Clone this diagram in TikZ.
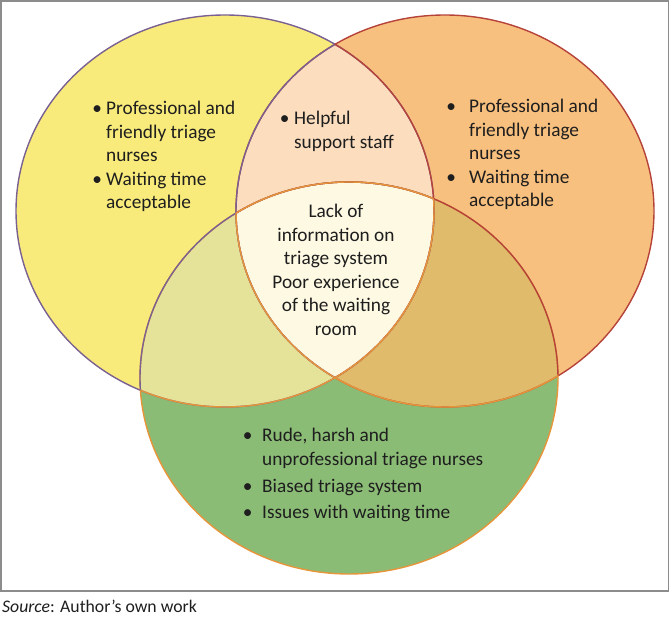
\documentclass[tikz,border=0pt]{standalone}
\usepackage{fontspec}
\setmainfont{Carlito}
\usepackage{tikz}

\definecolor{vyellow}{HTML}{F8EB7B}
\definecolor{vorange}{HTML}{F8C07E}
\definecolor{vpeach}{HTML}{FCDDBE}
\definecolor{vcream}{HTML}{FEF9E3}
\definecolor{volive}{HTML}{E5E39A}
\definecolor{vtan}{HTML}{DFBB6B}
\definecolor{vgreen}{HTML}{8BBC76}
\definecolor{lpurple}{HTML}{7A6191}
\definecolor{rred}{HTML}{B5433A}
\definecolor{borange}{HTML}{E7953A}
\definecolor{framegrey}{HTML}{8C8C8C}
\definecolor{ink}{HTML}{1E1E1E}

\newcommand\vennfont{\fontsize{19.3}{23.5}\selectfont}
\newcommand\bul[1]{\llap{\makebox[0pt]{\textbullet}\hspace{#1pt}}}
% the three sets
\newcommand\setL{(L) ellipse [x radius=209pt, y radius=196pt]}
\newcommand\setR{(R) ellipse [x radius=209pt, y radius=196pt]}
\newcommand\setB{(B) ellipse [x radius=209pt, y radius=196pt]}

\begin{document}
\begin{tikzpicture}[
  x=1pt,y=-1pt,
  edge/.style={draw=#1,line width=1.4pt},
  lbl/.style={anchor=base west,inner sep=0pt,font=\vennfont,text=ink},
  mid/.style={anchor=base,inner sep=0pt,font=\vennfont,text=ink},
  frame/.style={draw=framegrey,line width=1.5pt}
]
  \useasboundingbox (0,0) rectangle (670,617);
  \coordinate (L) at (225,211);
  \coordinate (R) at (445,211);
  \coordinate (B) at (349,378);

  % region fills
  \fill[vyellow] \setL;
  \fill[vorange] \setR;
  \begin{scope}
    \clip \setL;
    \fill[vpeach] \setR;
  \end{scope}
  \fill[vgreen] \setB;
  \begin{scope}
    \clip \setB;
    \fill[volive] \setL;
    \fill[vtan] \setR;
    \clip \setL;
    \fill[vcream] \setR;
  \end{scope}

  % outlines
  \draw[edge=lpurple] \setL;
  \draw[edge=rred] \setR;
  \draw[edge=borange] \setB;
  \begin{scope}
    \clip \setL;
    \draw[edge=lpurple] \setR;
    \draw[edge=lpurple] \setB;
  \end{scope}
  \begin{scope}
    \clip \setR;
    \draw[edge=rred] \setL;
    \draw[edge=rred] \setB;
  \end{scope}
  \begin{scope}
    \clip \setB;
    \draw[edge=borange] \setL;
    \draw[edge=borange] \setR;
  \end{scope}
  \begin{scope}
    \clip \setL;
    \clip \setR;
    \draw[edge=borange] \setB;
  \end{scope}

  \node[lbl] (left) at (106,115) {\begin{tabular}[t]{@{}l@{}}
    \bul{9}Professional and\\ friendly triage\\ nurses\\
    \bul{9}Waiting time\\ acceptable\end{tabular}};
  \node[lbl] (right) at (469,113) {\begin{tabular}[t]{@{}l@{}}
    \bul{18}Professional and\\ friendly triage\\ nurses\\
    \bul{18}Waiting time\\ acceptable\end{tabular}};
  \node[lbl] (top) at (294,125) {\begin{tabular}[t]{@{}l@{}}
    \bul{9.5}Helpful\\ support staff\end{tabular}};
  \node[mid] (core) at (336,218) {\begin{tabular}[t]{@{}c@{}}
    Lack of\\ information on\\ triage system\\ Poor experience\\
    of the waiting\\ room\end{tabular}};
  \node[lbl] (bottom) at (262,442) {\begin{tabular}[t]{@{}l@{}}
    \bul{14.5}Rude, harsh and\\ unprofessional triage nurses\\[4pt]
    \bul{14.5}Biased triage system\\[2pt]
    \bul{14.5}Issues with waiting time\end{tabular}};

  \draw[frame] (1,1) rectangle (668.5,591);
  \node[anchor=base west,inner sep=0pt,font=\fontsize{17.7}{21}\selectfont,text=ink]
    (source) at (2,612.5) {\textit{Source}: Author’s own work};
\end{tikzpicture}
\end{document}
